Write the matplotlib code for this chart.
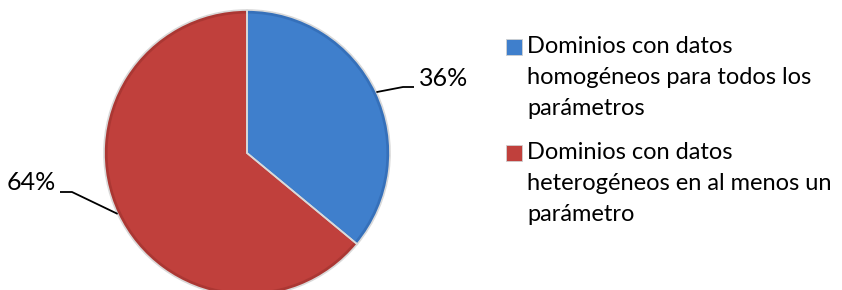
import matplotlib.pyplot as plt
from matplotlib.patches import Rectangle
import numpy as np

plt.rcParams['font.family'] = ['Lato', 'DejaVu Sans']

labels = ['Dominios con datos\nhomogéneos para todos los\nparámetros',
          'Dominios con datos\nheterogéneos en al menos un\nparámetro']
values = [36, 64]
colors = ['#3f7fcc', '#c0403c']
dark = ['#3570ba', '#ab3733']

W, H = 842, 290
fig = plt.figure(figsize=(W / 100, H / 100), dpi=100)
# pie is 286px wide, centre at (247, 153) from top-left
ax = fig.add_axes([104 / W, -6 / H, 286 / W, 286 / H])

# darker rim first, then the main face on top -> a bit of the bevel look
ax.pie(values, colors=dark, startangle=90, counterclock=False, radius=1,
       wedgeprops=dict(linewidth=0))
wedges, _ = ax.pie(values, colors=colors, startangle=90, counterclock=False,
                   radius=0.975, wedgeprops=dict(linewidth=0))
ax.pie(values, startangle=90, counterclock=False, radius=1,
       wedgeprops=dict(edgecolor='#d9d9d9', linewidth=1.2, fill=False))
ax.set_xlim(-1, 1)
ax.set_ylim(-1, 1)
ax.set_aspect('equal')
ax.axis('off')

# leader lines + percent labels
def to_data(px, py):
    return (px - 247) / 143, (153 - py) / 143

# (elbow px, end px, text px, ha) for each slice
leaders = [((403, 87), (414, 87), (419, 78), 'left'),
           ((72, 192), (60, 192), (56, 183), 'right')]
for w, v, (elb, end, tp, ha) in zip(wedges, values, leaders):
    ang = np.deg2rad((w.theta1 + w.theta2) / 2)
    x0, y0 = np.cos(ang), np.sin(ang)
    x1, y1 = to_data(*elb)
    x2, y2 = to_data(*end)
    ax.plot([x0, x1, x2], [y0, y1, y2], color='black', lw=1.3, clip_on=False,
            solid_capstyle='butt')
    tx, ty = to_data(*tp)
    ax.text(tx, ty, f'{v}%', ha=ha, va='center', fontsize=18, clip_on=False)

# legend drawn by hand so the marker sits on the first line
tops = [39, 145]
for lab, c, top in zip(labels, colors, tops):
    fig.patches.append(Rectangle((506 / W, 1 - (top + 16) / H), 16 / W, 16 / H,
                                 transform=fig.transFigure, facecolor=c,
                                 edgecolor='#d0d0d0', linewidth=0.6))
    fig.text(527 / W, 1 - (top - 3) / H, lab, ha='left', va='top',
             fontsize=17, linespacing=1.6)

fig.savefig('out.png', dpi=100)
